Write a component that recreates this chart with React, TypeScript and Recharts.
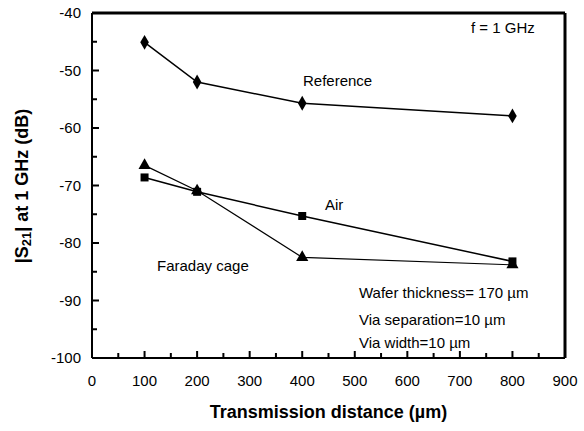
import { ComposedChart, Line, ReferenceLine, Scatter, XAxis, YAxis } from "recharts";

// transmission distance (µm)
const distances = [100, 200, 400, 800];
// |S21| at 1 GHz (dB)
const reference = [-45.1, -52.0, -55.7, -57.9];
const air = [-68.6, -71.1, -75.3, -83.2];
const faradayCage = [-66.5, -70.9, -82.5, -83.8];

const xTicks = [0, 50, 100, 150, 200, 250, 300, 350, 400, 450, 500, 550, 600, 650, 700, 750, 800, 850, 900];
const yTicks = [-100, -95, -90, -85, -80, -75, -70, -65, -60, -55, -50, -45, -40];

const data = distances.map((d, i) => ({
    distance: d,
    reference: reference[i],
    air: air[i],
    faraday: faradayCage[i],
}));

const font = "'Liberation Sans', Arial, Helvetica, sans-serif";

const XTick = (props: any) => {
    const { x, y, payload } = props;
    const major = payload.value % 100 === 0;
    return (
        <g>
            <line x1={x} x2={x} y1={y} y2={y - (major ? 7 : 5)} stroke="#000" strokeWidth={2} />
            {major && (
                <text x={x} y={y + 28} textAnchor="middle" fontSize={15} fontFamily={font} fill="#000">
                    {payload.value}
                </text>
            )}
        </g>
    );
};

const YTick = (props: any) => {
    const { x, y, payload } = props;
    const major = payload.value % 10 === 0;
    return (
        <g>
            <line x1={x} x2={x + (major ? 7 : 5)} y1={y} y2={y} stroke="#000" strokeWidth={2} />
            {major && (
                <text x={x - 11} y={y + 5} textAnchor="end" fontSize={15} fontFamily={font} fill="#000">
                    {payload.value}
                </text>
            )}
        </g>
    );
};

// baseline-positioned note
const Note = ({ x, y, children }: { x: number; y: number; children: any }) => (
    <div
        style={{
            position: "absolute",
            left: x,
            top: y - 14,
            fontSize: 15,
            lineHeight: "17px",
            whiteSpace: "nowrap",
            fontFamily: font,
            color: "#000",
            pointerEvents: "none",
        }}
    >
        {children}
    </div>
);

export default function App() {
    return (
        <div style={{ position: "absolute", left: 0, top: 0, width: 584, height: 431, background: "#fff" }}>
            <ComposedChart width={584} height={431} data={data} margin={{ top: 13, right: 19, left: 32, bottom: 43 }}>
                <XAxis
                    dataKey="distance"
                    type="number"
                    domain={[0, 900]}
                    ticks={xTicks}
                    interval={0}
                    height={30}
                    tickSize={0}
                    tickMargin={0}
                    tickLine={false}
                    tick={<XTick />}
                    axisLine={{ stroke: "#000", strokeWidth: 2 }}
                />
                <YAxis
                    type="number"
                    domain={[-100, -40]}
                    ticks={yTicks}
                    interval={0}
                    width={60}
                    tickSize={0}
                    tickMargin={0}
                    tickLine={false}
                    tick={<YTick />}
                    axisLine={{ stroke: "#000", strokeWidth: 2 }}
                />
                <ReferenceLine y={-40} stroke="#000" strokeWidth={3} />
                <ReferenceLine x={900} stroke="#000" strokeWidth={3} />
                <Line dataKey="reference" stroke="#000" strokeWidth={1.5} dot={false} isAnimationActive={false} />
                <Line dataKey="air" stroke="#000" strokeWidth={1.5} dot={false} isAnimationActive={false} />
                <Line dataKey="faraday" stroke="#000" strokeWidth={1.2} dot={false} isAnimationActive={false} />
                <Scatter dataKey="reference" shape="diamond" fill="#000" isAnimationActive={false} />
                <Scatter dataKey="air" shape="square" fill="#000" isAnimationActive={false} />
                <Scatter dataKey="faraday" shape="triangle" fill="#000" isAnimationActive={false} />
            </ComposedChart>
            <Note x={471} y={33}>f = 1 GHz</Note>
            <Note x={303} y={86}>Reference</Note>
            <Note x={325} y={210}>Air</Note>
            <Note x={157} y={271}>Faraday cage</Note>
            <Note x={359} y={298}>Wafer thickness= 170 µm</Note>
            <Note x={359} y={325}>Via separation=10 µm</Note>
            <Note x={359} y={348}>Via width=10 µm</Note>
            <div
                style={{
                    position: "absolute",
                    left: 92,
                    width: 473,
                    top: 402,
                    textAlign: "center",
                    fontSize: 18,
                    lineHeight: "21px",
                    fontWeight: "bold",
                    fontFamily: font,
                    whiteSpace: "nowrap",
                }}
            >
                Transmission distance (µm)
            </div>
            <div
                style={{
                    position: "absolute",
                    left: 22 - 130,
                    top: 186 - 11,
                    width: 260,
                    height: 22,
                    textAlign: "center",
                    fontSize: 18,
                    lineHeight: "22px",
                    fontWeight: "bold",
                    fontFamily: font,
                    whiteSpace: "nowrap",
                    transform: "rotate(-90deg)",
                }}
            >
                |S<span style={{ fontSize: 13, verticalAlign: "-3px" }}>21</span>| at 1 GHz (dB)
            </div>
        </div>
    );
}
